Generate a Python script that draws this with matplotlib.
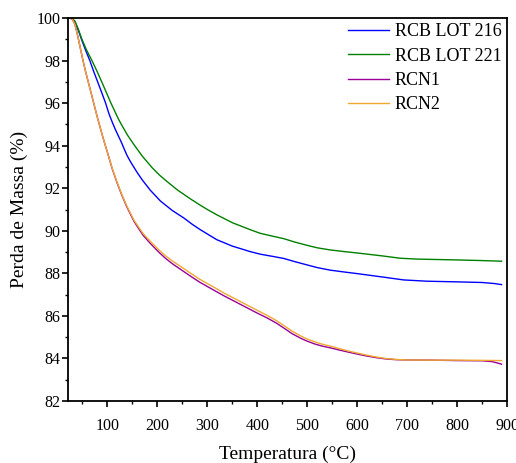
import matplotlib
matplotlib.use("Agg")
import matplotlib.pyplot as plt
from matplotlib.ticker import MultipleLocator

plt.rcParams['font.family'] = ['Liberation Serif', 'DejaVu Serif']

# Temperature (°C) and remaining mass (%) for each sample
temp_216 = [25, 30, 35, 42, 48, 56, 65, 73, 81, 90, 96, 103, 110, 116, 122, 128, 133, 139,
            146, 152, 160, 170, 186, 206, 230, 253, 270, 286, 300, 319, 350, 386, 406,
            430, 453, 475, 499, 520, 546, 575, 599, 650, 693, 740, 799, 850, 875, 889]
mass_216 = [100.0, 99.95, 99.8, 99.4, 99.0, 98.5, 97.98, 97.45, 96.96, 96.4, 96.02, 95.5,
            95.08, 94.75, 94.45, 94.15, 93.87, 93.55, 93.25, 93.02, 92.72, 92.38, 91.9,
            91.4, 90.95, 90.6, 90.3, 90.05, 89.85, 89.58, 89.28, 89.02, 88.9, 88.8, 88.7,
            88.55, 88.4, 88.27, 88.15, 88.06, 87.99, 87.83, 87.69, 87.63, 87.6, 87.57,
            87.52, 87.47]

temp_221 = [25, 30, 35, 42, 48, 58, 70, 80, 90, 100, 107, 115, 122, 129, 140, 153, 170,
            190, 205, 219, 240, 266, 286, 300, 319, 350, 386, 406, 430, 453, 475, 499,
            520, 546, 575, 599, 650, 686, 720, 760, 800, 850, 889]
mass_221 = [100.0, 99.96, 99.85, 99.45, 99.05, 98.5, 97.95, 97.45, 96.92, 96.38, 96.0,
            95.6, 95.25, 94.95, 94.5, 94.05, 93.5, 92.95, 92.6, 92.32, 91.92, 91.5, 91.2,
            91.0, 90.75, 90.38, 90.05, 89.88, 89.75, 89.63, 89.47, 89.32, 89.2, 89.1,
            89.02, 88.96, 88.82, 88.71, 88.67, 88.65, 88.63, 88.6, 88.57]

temp_rcn1 = [25, 30, 35, 41, 46, 51, 56, 62, 67, 73, 79, 86, 93, 100, 110, 119, 128, 138,
             153, 163, 172, 186, 203, 216, 230, 253, 270, 285, 300, 319, 335, 350, 368,
             386, 400, 420, 439, 455, 470, 486, 499, 515, 530, 546, 565, 582, 599, 620,
             640, 660, 680, 700, 750, 800, 850, 870, 882, 889]
mass_rcn1 = [100.0, 99.93, 99.7, 99.1, 98.55, 98.0, 97.5, 96.95, 96.5, 95.95, 95.4, 94.8,
             94.22, 93.68, 92.88, 92.27, 91.72, 91.16, 90.45, 90.08, 89.77, 89.4, 88.99,
             88.71, 88.45, 88.08, 87.81, 87.58, 87.38, 87.13, 86.92, 86.74, 86.52, 86.3,
             86.13, 85.9, 85.65, 85.4, 85.16, 84.96, 84.82, 84.68, 84.58, 84.5, 84.39,
             84.3, 84.21, 84.11, 84.03, 83.97, 83.94, 83.93, 83.92, 83.9, 83.89, 83.85,
             83.78, 83.73]

temp_rcn2 = [25, 30, 35, 41, 46, 51, 56, 62, 67, 73, 79, 86, 93, 100, 110, 119, 128, 138,
             153, 163, 172, 186, 203, 216, 230, 253, 270, 285, 300, 319, 335, 350, 368,
             386, 400, 420, 439, 455, 470, 486, 499, 515, 530, 546, 565, 582, 599, 620,
             640, 660, 680, 700, 750, 800, 850, 889]
mass_rcn2 = [100.0, 99.93, 99.7, 99.1, 98.55, 98.0, 97.5, 96.95, 96.5, 95.95, 95.4, 94.8,
             94.22, 93.68, 92.9, 92.3, 91.75, 91.2, 90.5, 90.15, 89.85, 89.5, 89.1, 88.83,
             88.58, 88.22, 87.95, 87.72, 87.52, 87.27, 87.05, 86.87, 86.65, 86.43, 86.26,
             86.02, 85.77, 85.52, 85.28, 85.07, 84.92, 84.78, 84.67, 84.58, 84.46, 84.35,
             84.26, 84.15, 84.06, 83.99, 83.95, 83.93, 83.92, 83.92, 83.91, 83.9]

labels = ['RCB LOT 216', 'RCB LOT 221', 'RCN1', 'RCN2']
colors = ['#0000ff', '#008000', '#990099', '#f0a830']

x_ticks = [100, 200, 300, 400, 500, 600, 700, 800, 900]
y_ticks = [82, 84, 86, 88, 90, 92, 94, 96, 98, 100]

fig = plt.figure(figsize=(5.16, 4.63), dpi=100)
ax = fig.add_axes([0.1318, 0.1339, 0.8508, 0.8272])

series = [(temp_216, mass_216), (temp_221, mass_221),
          (temp_rcn1, mass_rcn1), (temp_rcn2, mass_rcn2)]
for (t, m), lab, c in zip(series, labels, colors):
    ax.plot(t, m, color=c, lw=1.0, label=lab, solid_joinstyle='round')

ax.set_xlim(21, 900)
ax.set_ylim(82, 100)
ax.set_xticks(x_ticks)
ax.set_yticks(y_ticks)
ax.xaxis.set_minor_locator(MultipleLocator(50))
ax.yaxis.set_minor_locator(MultipleLocator(1))
ax.tick_params(which='major', direction='out', length=4.5, width=1.2,
               labelsize=11.5, top=False, right=False)
ax.tick_params(axis='x', which='major', pad=7.5)
ax.tick_params(axis='y', which='major', pad=0.8)
ax.tick_params(which='minor', direction='out', length=2.5, width=1.0,
               top=False, right=False)
for s in ax.spines.values():
    s.set_linewidth(1.3)

ax.set_xlabel('Temperatura (°C)', fontsize=14, labelpad=9)
ax.set_ylabel('Perda de Massa (%)', fontsize=14, labelpad=6)

leg = ax.legend(loc='upper right', frameon=False, fontsize=13,
                handlelength=2.3, handletextpad=0.3, labelspacing=0.4,
                borderaxespad=0.1, borderpad=0.2)

fig.savefig('out.png', dpi=100)
